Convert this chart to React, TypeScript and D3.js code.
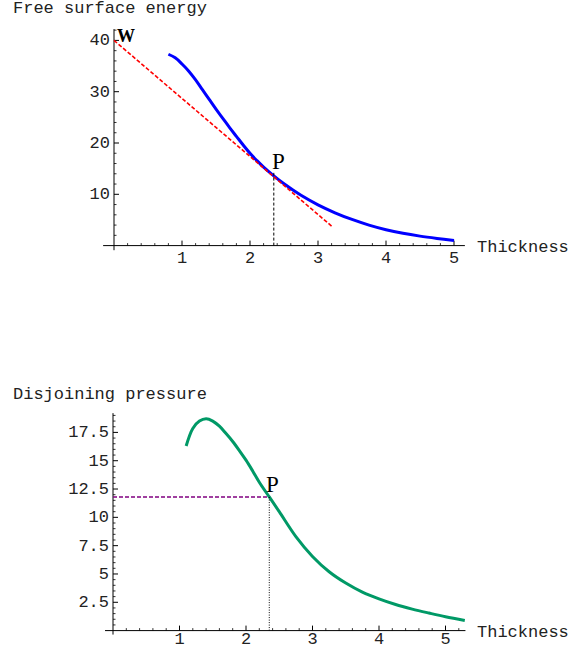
import { useEffect, useRef } from "react"
import * as d3 from "d3"

// Free surface energy curve
const energyThickness = [0.8, 0.9, 1.0, 1.1, 1.2, 1.3, 1.4, 1.5, 1.6, 1.7, 1.8, 1.9, 2.0, 2.1, 2.2, 2.35, 2.5, 2.75, 3.0, 3.25, 3.5, 3.75, 4.0, 4.25, 4.5, 4.75, 5.0]
const energyValue = [37.3, 36.6, 35.4, 34.0, 32.3, 30.4, 28.5, 26.6, 24.8, 23.0, 21.3, 19.6, 18.0, 16.6, 15.3, 13.6, 12.05, 9.8, 7.95, 6.4, 5.1, 4.0, 3.1, 2.4, 1.85, 1.4, 1.0]

// tangent line through P
const tangentThickness = [0, 3.2]
const tangentValue = [40, 3.8]

// Disjoining pressure curve
const pressureThickness = [1.1, 1.2, 1.3, 1.4, 1.5, 1.6, 1.7, 1.8, 1.9, 2.0, 2.1, 2.2, 2.35, 2.5, 2.75, 3.0, 3.25, 3.5, 3.75, 4.0, 4.25, 4.5, 4.75, 5.0, 5.29]
const pressureValue = [16.3, 17.85, 18.5, 18.7, 18.5, 18.05, 17.4, 16.7, 15.9, 15.05, 14.1, 13.1, 11.8, 10.5, 8.3, 6.55, 5.2, 4.2, 3.4, 2.8, 2.3, 1.9, 1.55, 1.22, 0.9]

const pThickness = 2.35
const pEnergy = 13.6
const pPressure = 11.8

const energyTicks = [10, 20, 30, 40]
const pressureTicks = [2.5, 5, 7.5, 10, 12.5, 15, 17.5]
const thicknessTicks = [1, 2, 3, 4, 5]

const MONO = "'Liberation Mono', 'Courier New', monospace"
const SERIF = "'Liberation Serif', 'Times New Roman', serif"

export default function App() {
  const ref = useRef<SVGSVGElement>(null)

  useEffect(() => {
    const svg = d3.select(ref.current)
    svg.selectAll("*").remove()

    const drawAxes = (
      g: d3.Selection<SVGGElement, unknown, null, undefined>,
      x: d3.ScaleLinear<number, number>,
      y: d3.ScaleLinear<number, number>,
      xRange: [number, number],
      yRange: [number, number],
      yMajor: number[],
      yMinorStep: number,
      labelDy: number
    ) => {
      // x axis
      g.append("line")
        .attr("x1", x(xRange[0])).attr("x2", x(xRange[1]))
        .attr("y1", y(0)).attr("y2", y(0))
        .attr("stroke", "#000").attr("stroke-width", 1)
      // y axis
      g.append("line")
        .attr("x1", x(0)).attr("x2", x(0))
        .attr("y1", y(yRange[0])).attr("y2", y(yRange[1]))
        .attr("stroke", "#000").attr("stroke-width", 1)

      // x ticks: major at integers, 4 minor between
      const xMinor = d3.range(0.2, xRange[1], 0.2).filter(d => Math.abs(d - Math.round(d)) > 1e-6)
      g.selectAll(".xminor").data(xMinor).join("line")
        .attr("x1", d => x(d)).attr("x2", d => x(d))
        .attr("y1", y(0)).attr("y2", y(0) - 2.5)
        .attr("stroke", "#000").attr("stroke-width", 0.8)
      g.selectAll(".xmajor").data(thicknessTicks).join("line")
        .attr("x1", d => x(d)).attr("x2", d => x(d))
        .attr("y1", y(0)).attr("y2", y(0) - 5)
        .attr("stroke", "#000").attr("stroke-width", 1)
      g.selectAll(".xlabel").data(thicknessTicks).join("text")
        .attr("x", d => x(d)).attr("y", y(0) + labelDy)
        .attr("text-anchor", "middle")
        .attr("font-family", MONO).attr("font-size", 17).attr("fill", "#222")
        .text(d => String(d))

      // y ticks
      const yMinor = d3.range(yMinorStep, yRange[1], yMinorStep)
        .filter(d => !yMajor.some(m => Math.abs(m - d) < 1e-6))
      g.selectAll(".yminor").data(yMinor).join("line")
        .attr("x1", x(0)).attr("x2", x(0) + 2.5)
        .attr("y1", d => y(d)).attr("y2", d => y(d))
        .attr("stroke", "#000").attr("stroke-width", 0.8)
      g.selectAll(".ymajor").data(yMajor).join("line")
        .attr("x1", x(0)).attr("x2", x(0) + 5)
        .attr("y1", d => y(d)).attr("y2", d => y(d))
        .attr("stroke", "#000").attr("stroke-width", 1)
      g.selectAll(".ylabel").data(yMajor).join("text")
        .attr("x", x(0) - 4).attr("y", d => y(d) + 5)
        .attr("text-anchor", "end")
        .attr("font-family", MONO).attr("font-size", 17).attr("fill", "#222")
        .text(d => String(d))

      g.append("text")
        .attr("x", 477).attr("y", y(0) + 6)
        .attr("font-family", MONO).attr("font-size", 17).attr("fill", "#222")
        .text("Thickness")
    }

    // ---------- Top: free surface energy ----------
    const x1 = d3.scaleLinear().domain([0, 5]).range([114, 454])
    const y1 = d3.scaleLinear().domain([0, 40]).range([245.6, 40.4])
    const top = svg.append("g")

    top.append("text")
      .attr("x", 13).attr("y", 13)
      .attr("font-family", MONO).attr("font-size", 17).attr("fill", "#222")
      .text("Free surface energy")

    drawAxes(top, x1, y1, [-0.16, 5.16], [-0.9, 42.2], energyTicks, 2, 17.5)

    const line1 = d3.line<number>()
      .x((_, i) => x1(energyThickness[i]))
      .y(d => y1(d))
      .curve(d3.curveCatmullRom.alpha(0.5))
    top.append("path")
      .attr("d", line1(energyValue))
      .attr("fill", "none").attr("stroke", "#0000ff").attr("stroke-width", 3)

    const tangent = d3.line<number>()
      .x((_, i) => x1(tangentThickness[i]))
      .y(d => y1(d))
    top.append("path")
      .attr("d", tangent(tangentValue))
      .attr("fill", "none").attr("stroke", "#ff0000").attr("stroke-width", 1.6)
      .attr("stroke-dasharray", "4,2")

    top.append("line")
      .attr("x1", x1(pThickness)).attr("x2", x1(pThickness))
      .attr("y1", y1(0)).attr("y2", y1(pEnergy) - 3)
      .attr("stroke", "#000").attr("stroke-width", 1)
      .attr("stroke-dasharray", "3,2")

    top.append("text")
      .attr("x", 272).attr("y", 169)
      .attr("font-family", SERIF).attr("font-size", 23).attr("fill", "#000")
      .text("P")
    top.append("text")
      .attr("x", 117).attr("y", 42)
      .attr("font-family", SERIF).attr("font-weight", "bold").attr("font-size", 18).attr("fill", "#000")
      .text("W")

    // ---------- Bottom: disjoining pressure ----------
    const x2 = d3.scaleLinear().domain([0, 5]).range([113, 445.5])
    const y2 = d3.scaleLinear().domain([0, 17.5]).range([630.6, 432.4])
    const bottom = svg.append("g")

    bottom.append("text")
      .attr("x", 13).attr("y", 399)
      .attr("font-family", MONO).attr("font-size", 17).attr("fill", "#222")
      .text("Disjoining pressure")

    // labels sit right at the bottom edge, pulled up a little so they are not clipped
    drawAxes(bottom, x2, y2, [-0.12, 5.3], [-0.35, 19.2], pressureTicks, 0.5, 13)

    const line2 = d3.line<number>()
      .x((_, i) => x2(pressureThickness[i]))
      .y(d => y2(d))
      .curve(d3.curveCatmullRom.alpha(0.5))
    bottom.append("path")
      .attr("d", line2(pressureValue))
      .attr("fill", "none").attr("stroke", "#009966").attr("stroke-width", 3)

    bottom.append("line")
      .attr("x1", x2(0)).attr("x2", x2(pThickness))
      .attr("y1", y2(pPressure)).attr("y2", y2(pPressure))
      .attr("stroke", "#800080").attr("stroke-width", 1.6)
      .attr("stroke-dasharray", "4,2")
    bottom.append("line")
      .attr("x1", x2(pThickness)).attr("x2", x2(pThickness))
      .attr("y1", y2(0)).attr("y2", y2(pPressure))
      .attr("stroke", "#000").attr("stroke-width", 1)
      .attr("stroke-dasharray", "1,1.5")

    bottom.append("text")
      .attr("x", 266).attr("y", 492)
      .attr("font-family", SERIF).attr("font-size", 23).attr("fill", "#000")
      .text("P")
  }, [])

  return (
    <svg
      ref={ref}
      width={583}
      height={648}
      style={{ position: "absolute", left: 0, top: 0, background: "#fff" }}
    />
  )
}
